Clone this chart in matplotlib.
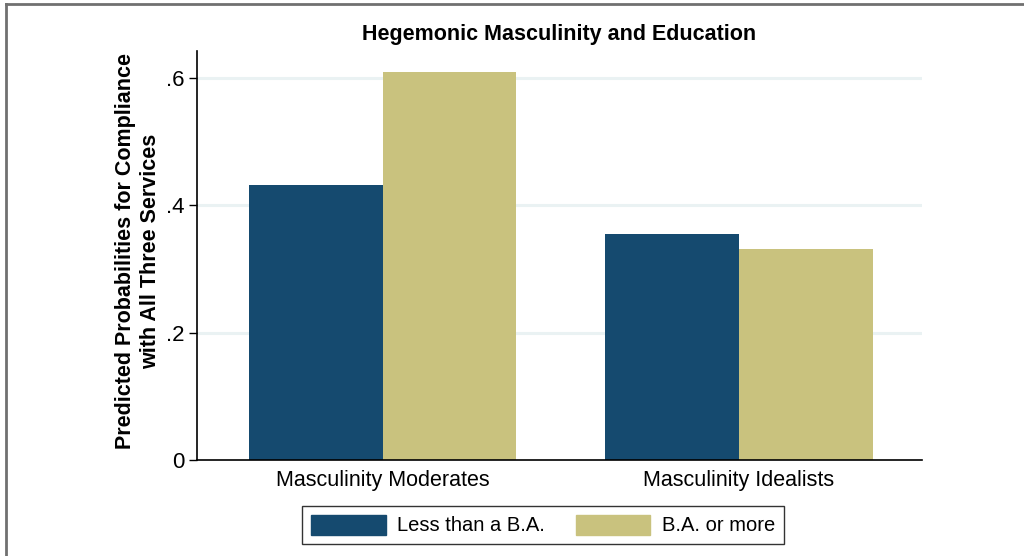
import matplotlib.pyplot as plt
import numpy as np
from matplotlib.lines import Line2D

groups = ['Masculinity Moderates', 'Masculinity Idealists']
series = ['Less than a B.A.', 'B.A. or more']
less_ba = [0.432, 0.355]
ba_more = [0.609, 0.331]
yticks = [0, 0.2, 0.4, 0.6]
ytick_labels = ['0', '.2', '.4', '.6']

plt.rcParams['font.family'] = ['Liberation Sans', 'DejaVu Sans']

blue = '#154a6f'
tan = '#c9c27e'
grid_col = '#eaf2f3'

fig = plt.figure(figsize=(10.24, 5.56), dpi=100)
ax = fig.add_axes([197/1024, 1-460/556, (922-197)/1024, (460-51)/556])

x = np.arange(len(groups))
w = 0.375
ax.bar(x - w/2, less_ba, w, color=blue, label=series[0], zorder=2)
ax.bar(x + w/2, ba_more, w, color=tan, label=series[1], zorder=2)

for t in yticks[1:]:
    ax.axhline(t, color=grid_col, lw=2.2, zorder=1)

ax.set_xlim(-0.522, 1.514)
ax.set_ylim(0, 0.6425)
ax.set_yticks(yticks)
ax.set_yticklabels(ytick_labels, fontsize=16)
ax.set_xticks(x)
ax.set_xticklabels(groups, fontsize=15.5)
ax.tick_params(axis='x', length=0, pad=7)
ax.tick_params(axis='y', length=6, width=1, pad=3, direction='out')
for s in ['top', 'right']:
    ax.spines[s].set_visible(False)
ax.spines['left'].set_linewidth(1.2)
ax.spines['bottom'].set_linewidth(1.2)

ax.set_ylabel('Predicted Probabilities for Compliance\nwith All Three Services',
              fontsize=15.5, fontweight='bold', linespacing=1.25)
ax.yaxis.set_label_coords(-0.049, 0.51)
ax.set_title('Hegemonic Masculinity and Education', fontsize=15.5,
             fontweight='bold', pad=8)

handles = [plt.Rectangle((0, 0), 1, 1, color=blue),
           plt.Rectangle((0, 0), 1, 1, color=tan)]
leg = fig.legend(handles, series, loc='center', ncol=2,
                 bbox_to_anchor=(543/1024, 1-525/556), fontsize=14.5,
                 frameon=True, fancybox=False, edgecolor='black',
                 handlelength=3.7, handleheight=1.15, columnspacing=1.55,
                 handletextpad=0.55, borderpad=0.45, borderaxespad=0)
leg.get_frame().set_linewidth(1.0)

# outer frame (left and top edges visible)
fig.add_artist(Line2D([5.5/1024, 5.5/1024], [0, 1-3.5/556], color='#707070',
                      lw=2, transform=fig.transFigure))
fig.add_artist(Line2D([5.5/1024, 1], [1-3.5/556, 1-3.5/556], color='#707070',
                      lw=2, transform=fig.transFigure))

fig.savefig('out.png', dpi=100)
